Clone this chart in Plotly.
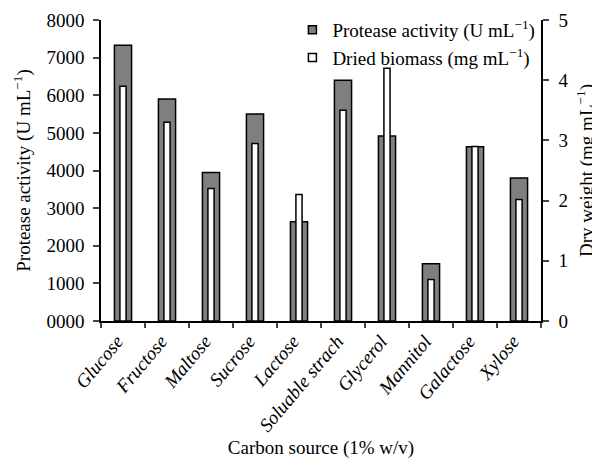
import plotly.graph_objects as go

categories = ["Glucose", "Fructose", "Maltose", "Sucrose", "Lactose",
              "Soluable strach", "Glycerol", "Mannitol", "Galactose", "Xylose"]
protease_activity = [7330, 5900, 3950, 5500, 2640, 6400, 4920, 1520, 4630, 3800]
dried_biomass = [3.9, 3.3, 2.2, 2.95, 2.1, 3.5, 4.2, 0.69, 2.9, 2.02]
left_tickvals = [0, 1000, 2000, 3000, 4000, 5000, 6000, 7000, 8000]
left_ticktext = ["0000", "1000", "2000", "3000", "4000", "5000", "6000", "7000", "8000"]
right_tickvals = [0, 1, 2, 3, 4, 5]

FONT = "Liberation Serif, Times New Roman, serif"
GRAY = "#7f7f7f"
FS = 19

fig = go.Figure()
fig.add_trace(go.Bar(
    x=categories, y=protease_activity, yaxis="y",
    width=0.39, offset=-0.195,
    marker=dict(color=GRAY, line=dict(color="black", width=1.5)),
    showlegend=False,
))
fig.add_trace(go.Bar(
    x=categories, y=dried_biomass, yaxis="y2",
    width=0.14, offset=-0.07,
    marker=dict(color="white", line=dict(color="black", width=1.5)),
    showlegend=False,
))
# legend entries
fig.add_trace(go.Scatter(
    x=[None], y=[None], mode="markers", name="Protease activity (U mL<sup>\u22121</sup>)",
    marker=dict(symbol="square", size=8, color=GRAY, line=dict(color="black", width=1.5)),
))
fig.add_trace(go.Scatter(
    x=[None], y=[None], mode="markers", name="Dried biomass (mg mL<sup>\u22121</sup>)",
    marker=dict(symbol="square", size=8, color="white", line=dict(color="black", width=1.5)),
))

fig.update_layout(
    width=592, height=451,
    margin=dict(l=93, r=59, t=11.5, b=138, autoexpand=False),
    paper_bgcolor="white", plot_bgcolor="white",
    font=dict(family=FONT, size=FS, color="black"),
    showlegend=True,
    legend=dict(x=0.435, y=1.03, xanchor="left", yanchor="top",
                bgcolor="rgba(0,0,0,0)", font=dict(size=FS),
                itemwidth=30, tracegroupgap=0),
    xaxis=dict(
        type="category", range=[-0.5, 9.5],
        tickson="boundaries", ticks="outside", ticklen=5, tickwidth=1.5,
        showline=True, linecolor="black", linewidth=1.5,
        tickangle=-50, tickfont=dict(style="italic", size=FS),
        ticklabelshift=-6,
        showgrid=False, zeroline=False,
        title=dict(text="Carbon source (1% w/v)", font=dict(size=FS), standoff=15),
    ),
    yaxis=dict(
        range=[0, 8000], tickvals=left_tickvals, ticktext=left_ticktext,
        ticks="outside", ticklen=6, tickwidth=1.5, ticklabelstandoff=5,
        showline=True, linecolor="black", linewidth=1.5,
        showgrid=False, zeroline=False,
        title=dict(text="Protease activity (U mL<sup>\u22121</sup>)", font=dict(size=FS), standoff=11),
    ),
    yaxis2=dict(
        range=[0, 5], tickvals=right_tickvals, overlaying="y", side="right",
        ticks="outside", ticklen=6, tickwidth=1.5, ticklabelstandoff=6,
        showline=True, linecolor="black", linewidth=1.5,
        showgrid=False, zeroline=False,
        title=dict(text="Dry weight (mg mL<sup>\u22121</sup>)", font=dict(size=FS), standoff=12),
    ),
)

fig.write_html("out.html")
